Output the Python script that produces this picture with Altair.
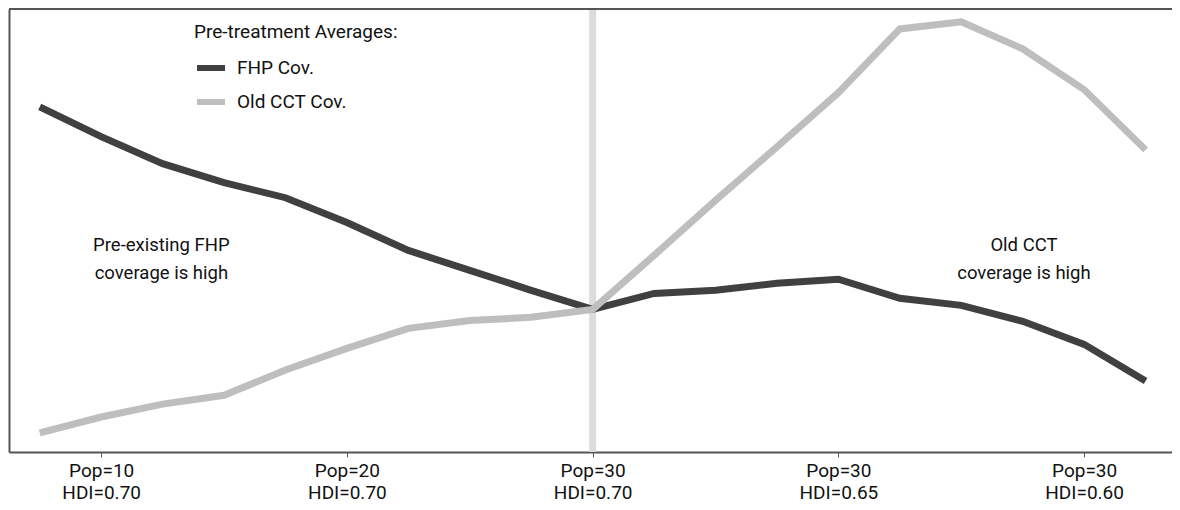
import altair as alt
import pandas as pd

# period index (4 steps between labelled ticks)
period = list(range(19))

fhp_cov = [77.9, 71.2, 65.1, 60.8, 57.4, 51.8, 45.5, 41.0, 36.5, 32.2,
           35.8, 36.5, 38.1, 39.0, 34.7, 33.1, 29.5, 24.3, 16.0]
cct_cov = [4.3, 7.9, 10.8, 12.8, 18.5, 23.4, 27.9, 29.7, 30.4, 32.2,
           44.4, 56.8, 68.9, 81.1, 95.5, 97.1, 91.0, 81.8, 68.2]

series = ["FHP Cov.", "Old CCT Cov."]

tick_idx = [1, 5, 9, 13, 17]
tick_pop = [10, 20, 30, 30, 30]
tick_hdi = ["0.70", "0.70", "0.70", "0.65", "0.60"]

treat_at = 9

notes = ["Pre-existing FHP\ncoverage is high", "Old CCT\ncoverage is high"]
note_x = [1.98, 16.02]
note_y = [46.7, 46.7]

df = pd.DataFrame({
    "period": period * 2,
    "coverage": fhp_cov + cct_cov,
    "series": [series[0]] * len(period) + [series[1]] * len(period),
})
notes_df = pd.DataFrame({"x": note_x, "y": note_y, "text": notes})

label_expr = " : ".join(
    f"datum.value == {i} ? ['Pop={p}', 'HDI={h}']"
    for i, p, h in zip(tick_idx, tick_pop, tick_hdi)
) + " : ''"

FONT = "Roboto"
FS = 19
W, H = 1163, 443

x_scale = alt.Scale(domain=[-0.5, 18.43], nice=False, zero=False)
y_scale = alt.Scale(domain=[0, 100], nice=False, zero=False)

# treatment line
vline = alt.Chart(pd.DataFrame({"period": [treat_at]})).mark_rule(
    color="#dcdcdc", strokeWidth=7
).encode(x=alt.X("period:Q", scale=x_scale))

top_border = alt.Chart().mark_rule(color="#555555", strokeWidth=2).encode(
    x=alt.value(0), x2=alt.value(W), y=alt.value(0)
)

lines = alt.Chart(df).mark_line(strokeWidth=7).encode(
    x=alt.X(
        "period:Q", scale=x_scale, title=None,
        axis=alt.Axis(
            values=tick_idx, labelExpr=label_expr, grid=False,
            domainColor="#555555", domainWidth=2, tickColor="#555555",
            tickSize=5, tickWidth=1, labelFont=FONT, labelFontSize=FS,
            labelColor="#111111", labelLineHeight=22, labelPadding=4,
            labelOverlap=False, labelFlush=False,
        ),
    ),
    y=alt.Y(
        "coverage:Q", scale=y_scale, title=None,
        axis=alt.Axis(
            labels=False, ticks=False, grid=False,
            domainColor="#555555", domainWidth=2,
        ),
    ),
    color=alt.Color(
        "series:N",
        scale=alt.Scale(domain=series, range=["#404040", "#bebebe"]),
        legend=alt.Legend(
            title="Pre-treatment Averages:", orient="none",
            legendX=185, legendY=14, padding=0,
            titleFont=FONT, titleFontSize=FS, titleFontWeight="normal",
            titleColor="#111111", titlePadding=9, titleLimit=400,
            labelFont=FONT, labelFontSize=FS, labelColor="#111111",
            labelOffset=9, rowPadding=5, labelLimit=300,
            symbolType="stroke", symbolSize=784, symbolStrokeWidth=6,
        ),
    ),
    order=alt.Order("series:N", sort="ascending"),
)

text = alt.Chart(notes_df).mark_text(
    font=FONT, fontSize=18.5, color="#111111", lineBreak="\n",
    lineHeight=28, align="center", baseline="middle"
).encode(
    x=alt.X("x:Q", scale=x_scale),
    y=alt.Y("y:Q", scale=y_scale),
    text="text:N",
)

chart = alt.layer(vline, lines, text, top_border).properties(
    width=W, height=H,
    autosize=alt.AutoSizeParams(type="none"),
    padding={"left": 1, "top": 1, "right": 0, "bottom": 53},
).configure_view(stroke=None)

chart.save("out.html", embed_options={"renderer": "svg", "actions": False})
